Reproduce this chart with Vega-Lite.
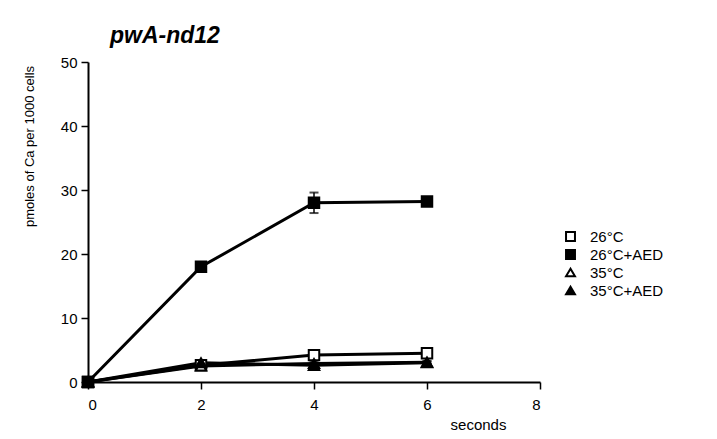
{
  "$schema": "https://vega.github.io/schema/vega-lite/v6.json",
  "autosize": "none",
  "width": 452,
  "height": 320,
  "padding": {"left": 88, "top": 62, "right": 177, "bottom": 57},
  "background": "white",
  "config": {
    "view": {"stroke": null},
    "font": "Liberation Sans",
    "axis": {"grid": false, "domainColor": "black", "tickColor": "black", "labelColor": "black", "titleColor": "black", "domainWidth": 2, "tickWidth": 1.5, "tickSize": 7, "labelFontSize": 15, "labelFont": "Liberation Sans"}
  },
  "title": {"text": "pwA-nd12", "font": "Liberation Sans", "fontSize": 23, "fontStyle": "italic", "fontWeight": "bold", "anchor": "start", "offset": 7, "dx": 87, "color": "black"},
  "data": {"values": [
    {"s": "26°C", "x": 0, "y": 0, "lo": 0, "hi": 0},
    {"s": "26°C", "x": 2, "y": 2.6, "lo": 2.4, "hi": 2.8},
    {"s": "26°C", "x": 4, "y": 4.2, "lo": 4.0, "hi": 4.4},
    {"s": "26°C", "x": 6, "y": 4.5, "lo": 4.3, "hi": 4.7},
    {"s": "26°C+AED", "x": 0, "y": 0, "lo": 0, "hi": 0},
    {"s": "26°C+AED", "x": 2, "y": 18, "lo": 17.6, "hi": 18.4},
    {"s": "26°C+AED", "x": 4, "y": 28, "lo": 26.4, "hi": 29.6},
    {"s": "26°C+AED", "x": 6, "y": 28.2, "lo": 27.8, "hi": 28.6},
    {"s": "35°C", "x": 0, "y": 0, "lo": 0, "hi": 0},
    {"s": "35°C", "x": 2, "y": 2.5, "lo": 2.3, "hi": 2.7},
    {"s": "35°C", "x": 4, "y": 2.9, "lo": 2.7, "hi": 3.1},
    {"s": "35°C", "x": 6, "y": 3.1, "lo": 2.9, "hi": 3.3},
    {"s": "35°C+AED", "x": 0, "y": 0, "lo": 0, "hi": 0},
    {"s": "35°C+AED", "x": 2, "y": 3.0, "lo": 2.8, "hi": 3.2},
    {"s": "35°C+AED", "x": 4, "y": 2.6, "lo": 2.4, "hi": 2.8},
    {"s": "35°C+AED", "x": 6, "y": 3.0, "lo": 2.8, "hi": 3.2}
  ]},
  "encoding": {
    "x": {"field": "x", "type": "quantitative", "scale": {"domain": [0, 8], "nice": false}, "axis": {"values": [0, 2, 4, 6, 8], "title": "seconds", "titleFontSize": 15, "titleFontWeight": "normal", "titleAnchor": "end", "titleAlign": "center", "titleX": 390, "titleY": 35, "labelPadding": 8}},
    "y": {"field": "y", "type": "quantitative", "scale": {"domain": [0, 50], "nice": false}, "axis": {"values": [0, 10, 20, 30, 40, 50], "title": "pmoles of Ca per 1000 cells", "titleFontSize": 13, "titleFontWeight": "normal", "titleX": -52, "titleY": 84, "labelPadding": 4}}
  },
  "layer": [
    {"mark": {"type": "tick", "orient": "horizontal", "color": "black", "thickness": 1.5, "size": 5}, "data": {"values": [{"v":5},{"v":15},{"v":25},{"v":35},{"v":45}]}, "encoding": {"x": {"datum": 0, "type": "quantitative"}, "y": {"field": "v", "type": "quantitative"}, "xOffset": {"value": -4}}},
    {"mark": {"type": "tick", "orient": "vertical", "color": "black", "thickness": 1.5, "size": 5}, "data": {"values": [{"v":1},{"v":3},{"v":5},{"v":7}]}, "encoding": {"x": {"field": "v", "type": "quantitative"}, "y": {"datum": 0, "type": "quantitative"}, "yOffset": {"value": 4}}},
    {"mark": {"type": "line", "color": "black", "strokeWidth": 3}, "encoding": {"detail": {"field": "s"}}},
    {"mark": {"type": "rule", "color": "black", "strokeWidth": 1.5}, "encoding": {"y": {"field": "lo", "type": "quantitative"}, "y2": {"field": "hi"}}},
    {"mark": {"type": "tick", "orient": "horizontal", "color": "black", "thickness": 2, "size": 9}, "encoding": {"y": {"field": "lo", "type": "quantitative"}}},
    {"mark": {"type": "tick", "orient": "horizontal", "color": "black", "thickness": 2, "size": 9}, "encoding": {"y": {"field": "hi", "type": "quantitative"}}},
    {"mark": {"type": "point", "size": 110, "opacity": 1, "strokeWidth": 2},
     "encoding": {
       "shape": {"field": "s", "type": "nominal", "scale": {"domain": ["26°C", "26°C+AED", "35°C", "35°C+AED"], "range": ["square", "square", "triangle-up", "triangle-up"]}, "legend": {"title": null, "orient": "none", "legendX": 475, "legendY": 167, "labelFontSize": 15, "labelColor": "black", "symbolSize": 80, "symbolStrokeWidth": 2, "rowPadding": 1, "labelOffset": 12, "labelFont": "Liberation Sans"}},
       "fill": {"field": "s", "type": "nominal", "scale": {"domain": ["26°C", "26°C+AED", "35°C", "35°C+AED"], "range": ["white", "black", "white", "black"]}, "legend": {"title": null, "orient": "none", "legendX": 475, "legendY": 167, "labelFontSize": 15, "labelColor": "black", "symbolSize": 80, "symbolStrokeWidth": 2, "rowPadding": 1, "labelOffset": 12, "labelFont": "Liberation Sans"}},
       "stroke": {"field": "s", "type": "nominal", "scale": {"domain": ["26°C", "26°C+AED", "35°C", "35°C+AED"], "range": ["black", "black", "black", "black"]}, "legend": {"title": null, "orient": "none", "legendX": 475, "legendY": 167, "labelFontSize": 15, "labelColor": "black", "symbolSize": 80, "symbolStrokeWidth": 2, "rowPadding": 1, "labelOffset": 12, "labelFont": "Liberation Sans"}}
     }}
  ]
}
